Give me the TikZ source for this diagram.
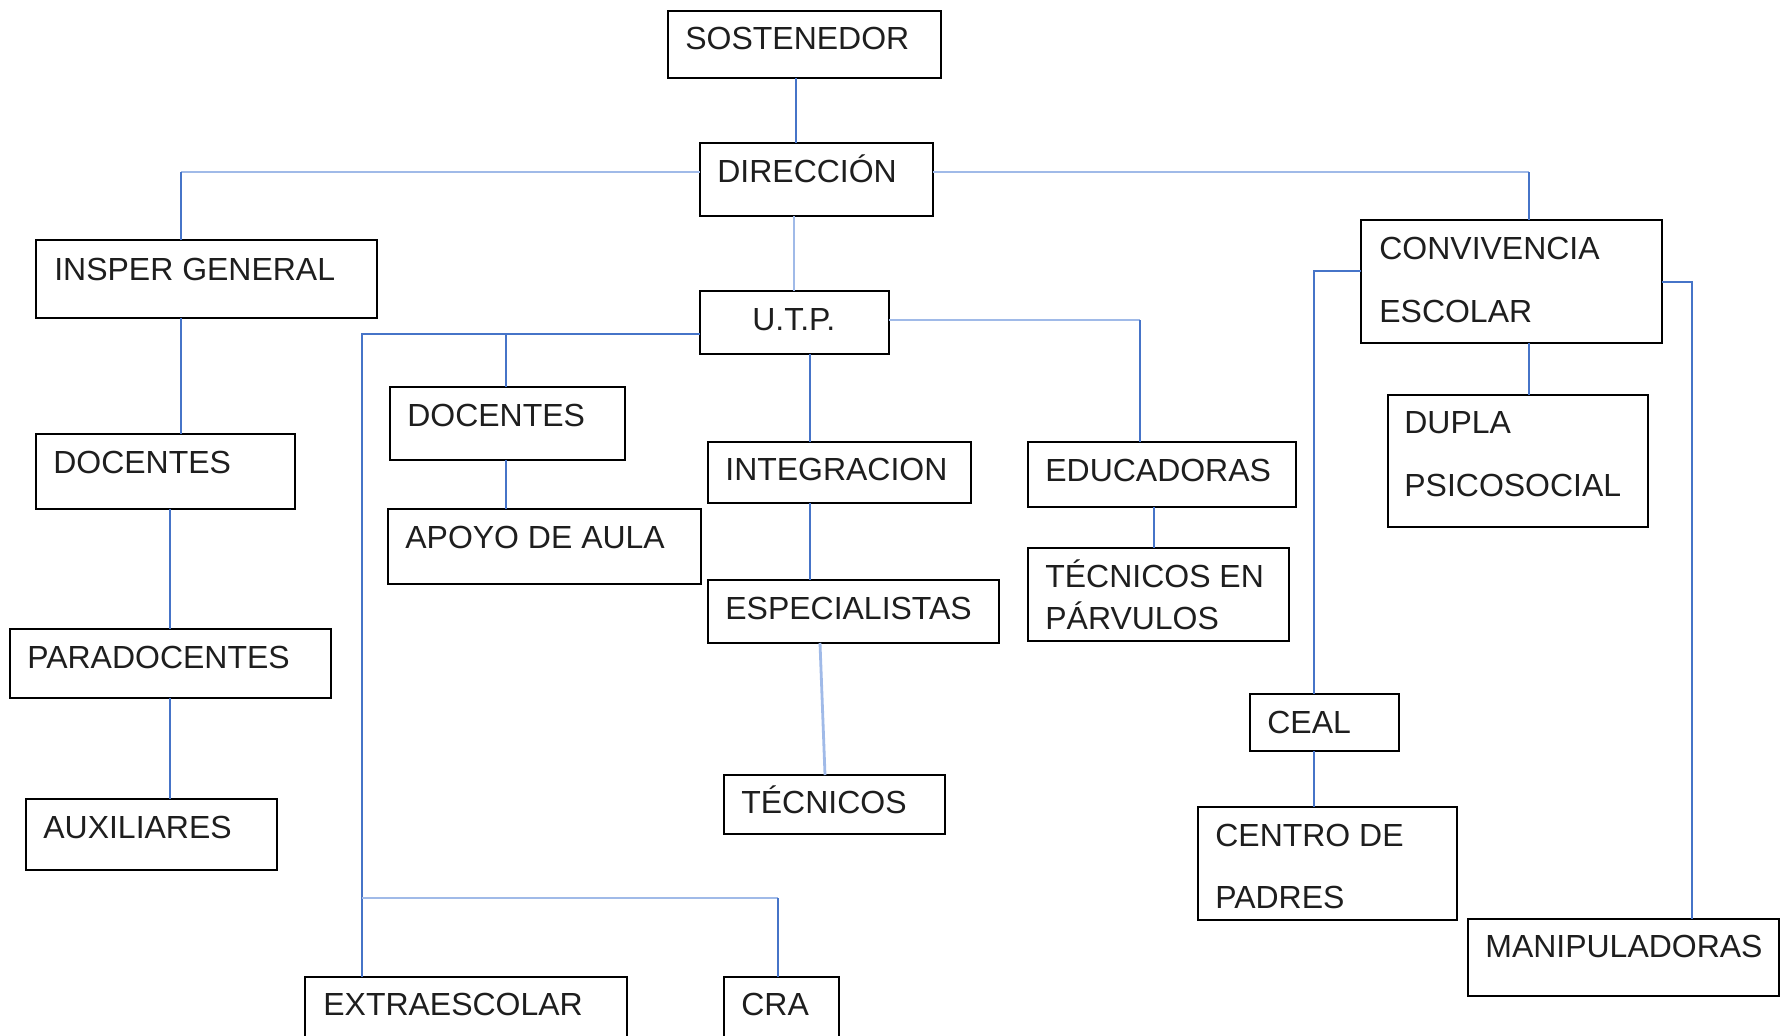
\documentclass[tikz,border=0pt]{standalone}
\usepackage{fontspec}
\setmainfont{Liberation Sans}
\definecolor{orgdark}{RGB}{70,116,200}
\definecolor{orglight}{RGB}{160,186,232}
\definecolor{orgtext}{RGB}{30,30,30}
\tikzset{
  orgbox/.style={draw=black, line width=1.3pt, rectangle, anchor=north west, inner sep=0pt, outer sep=0pt},
  orgtxt/.style={anchor=base west, inner sep=0pt, xshift=-0.04cm, text=orgtext, font=\fontsize{18.2}{22}\selectfont},
  darkline/.style={draw=orgdark, line width=1.5pt},
  lightline/.style={draw=orglight, line width=1.6pt},
}

\begin{document}
\begin{tikzpicture}[x=0.02cm, y=-0.02cm]
\useasboundingbox (0,0) rectangle (1781,1035);
\clip (0,0) rectangle (1781,1035);
\fill[white] (0,0) rectangle (1781,1035);

% boxes
\node[orgbox, minimum width=5.46cm, minimum height=1.34cm] (sost) at (668,11) {};
\node[orgtxt] (sost-t) at (687,49) {SOSTENEDOR};
\node[orgbox, minimum width=4.66cm, minimum height=1.46cm] (dir) at (700,143) {};
\node[orgtxt] (dir-t) at (719,182) {DIRECCIÓN};
\node[orgbox, minimum width=6.82cm, minimum height=1.56cm] (insp) at (36,240) {};
\node[orgtxt] (insp-t) at (56,280) {INSPER GENERAL};
\node[orgbox, minimum width=3.78cm, minimum height=1.26cm] (utp) at (700,291) {};
\node[orgtxt] (utp-t) at (754,330) {U.T.P.};
\node[orgbox, minimum width=5.18cm, minimum height=1.5cm] (doc1) at (36,434) {};
\node[orgtxt] (doc1-t) at (55,473) {DOCENTES};
\node[orgbox, minimum width=4.7cm, minimum height=1.46cm] (doc2) at (390,387) {};
\node[orgtxt] (doc2-t) at (409,426) {DOCENTES};
\node[orgbox, minimum width=5.26cm, minimum height=1.22cm] (integ) at (708,442) {};
\node[orgtxt] (integ-t) at (727,480) {INTEGRACION};
\node[orgbox, minimum width=5.36cm, minimum height=1.3cm] (educ) at (1028,442) {};
\node[orgtxt] (educ-t) at (1047,481) {EDUCADORAS};
\node[orgbox, minimum width=6.02cm, minimum height=2.46cm] (conv) at (1361,220) {};
\node[orgtxt] (conv-t1) at (1381,259) {CONVIVENCIA};
\node[orgtxt] (conv-t2) at (1381,322) {ESCOLAR};
\node[orgbox, minimum width=5.2cm, minimum height=2.64cm] (dupla) at (1388,395) {};
\node[orgtxt] (dupla-t1) at (1406,433) {DUPLA};
\node[orgtxt] (dupla-t2) at (1406,496) {PSICOSOCIAL};
\node[orgbox, minimum width=6.26cm, minimum height=1.5cm] (apoyo) at (388,509) {};
\node[orgtxt] (apoyo-t) at (407,548) {APOYO DE AULA};
\node[orgbox, minimum width=5.82cm, minimum height=1.26cm] (espec) at (708,580) {};
\node[orgtxt] (espec-t) at (727,619) {ESPECIALISTAS};
\node[orgbox, minimum width=6.42cm, minimum height=1.38cm] (parad) at (10,629) {};
\node[orgtxt] (parad-t) at (29,668) {PARADOCENTES};
\node[orgbox, minimum width=5.02cm, minimum height=1.42cm] (auxil) at (26,799) {};
\node[orgtxt] (auxil-t) at (45,838) {AUXILIARES};
\node[orgbox, minimum width=4.42cm, minimum height=1.18cm] (tecn) at (724,775) {};
\node[orgtxt] (tecn-t) at (743,813) {TÉCNICOS};
\node[orgbox, minimum width=6.44cm, minimum height=1.6cm] (extra) at (305,977) {};
\node[orgtxt] (extra-t) at (325,1015) {EXTRAESCOLAR};
\node[orgbox, minimum width=2.3cm, minimum height=1.6cm] (cra) at (724,977) {};
\node[orgtxt] (cra-t) at (743,1015) {CRA};
\node[orgbox, minimum width=5.22cm, minimum height=1.86cm] (tpar) at (1028,548) {};
\node[orgtxt] (tpar-t1) at (1047,587) {TÉCNICOS EN};
\node[orgtxt] (tpar-t2) at (1047,629) {PÁRVULOS};
\node[orgbox, minimum width=2.98cm, minimum height=1.14cm] (ceal) at (1250,694) {};
\node[orgtxt] (ceal-t) at (1269,733) {CEAL};
\node[orgbox, minimum width=5.18cm, minimum height=2.26cm] (cpad) at (1198,807) {};
\node[orgtxt] (cpad-t1) at (1217,846) {CENTRO DE};
\node[orgtxt] (cpad-t2) at (1217,908) {PADRES};
\node[orgbox, minimum width=6.22cm, minimum height=1.54cm] (manip) at (1468,919) {};
\node[orgtxt] (manip-t) at (1487,957) {MANIPULADORAS};

% joints
\coordinate (sd) at (796,110);
\coordinate (di) at (181,172);
\coordinate (dc) at (1529,172);
\coordinate (du) at (794,250);
\coordinate (ue) at (362,334);
\coordinate (ud) at (506,334);
\coordinate (ec) at (778,898);
\coordinate (ur) at (1140,320);
\coordinate (ui) at (810,400);
\coordinate (et) at (820,700);
\coordinate (et2) at (825,700);
\coordinate (ep) at (1154,520);
\coordinate (cl) at (1314,271);
\coordinate (cr) at (1692,282);
\coordinate (dp) at (170,560);

% connectors
\draw[darkline] (sost.south -| sd) -- (dir.north -| sd);
\draw[lightline] (dir.west |- di) -- (di);
\draw[darkline] (di) -- (di |- insp.north);
\draw[lightline] (dir.east |- dc) -- (dc);
\draw[darkline] (dc) -- (dc |- conv.north);
\draw[lightline] (dir.south -| du) -- (utp.north -| du);
\draw[darkline] (utp.west |- ue) -- (ue) -- (ue |- extra.north);
\draw[darkline] (ud) -- (ud |- doc2.north);
\draw[lightline] (ue |- ec) -- (ec);
\draw[darkline] (ec) -- (ec |- cra.north);
\draw[lightline] (utp.east |- ur) -- (ur);
\draw[darkline] (ur) -- (ur |- educ.north);
\draw[darkline] (utp.south -| ui) -- (integ.north -| ui);
\draw[darkline] (integ.south -| ui) -- (espec.north -| ui);
\draw[lightline] (espec.south -| et) -- (tecn.north -| et2);
\draw[darkline] (educ.south -| ep) -- (tpar.north -| ep);
\draw[darkline] (dc |- conv.south) -- (dc |- dupla.north);
\draw[darkline] (conv.west |- cl) -- (cl) -- (cl |- ceal.north);
\draw[darkline] (ceal.south -| cl) -- (cpad.north -| cl);
\draw[darkline] (conv.east |- cr) -- (cr) -- (cr |- manip.north);
\draw[darkline] (insp.south -| di) -- (doc1.north -| di);
\draw[darkline] (doc1.south -| dp) -- (parad.north -| dp);
\draw[darkline] (parad.south -| dp) -- (auxil.north -| dp);
\draw[darkline] (doc2.south -| ud) -- (apoyo.north -| ud);
\end{tikzpicture}
\end{document}
